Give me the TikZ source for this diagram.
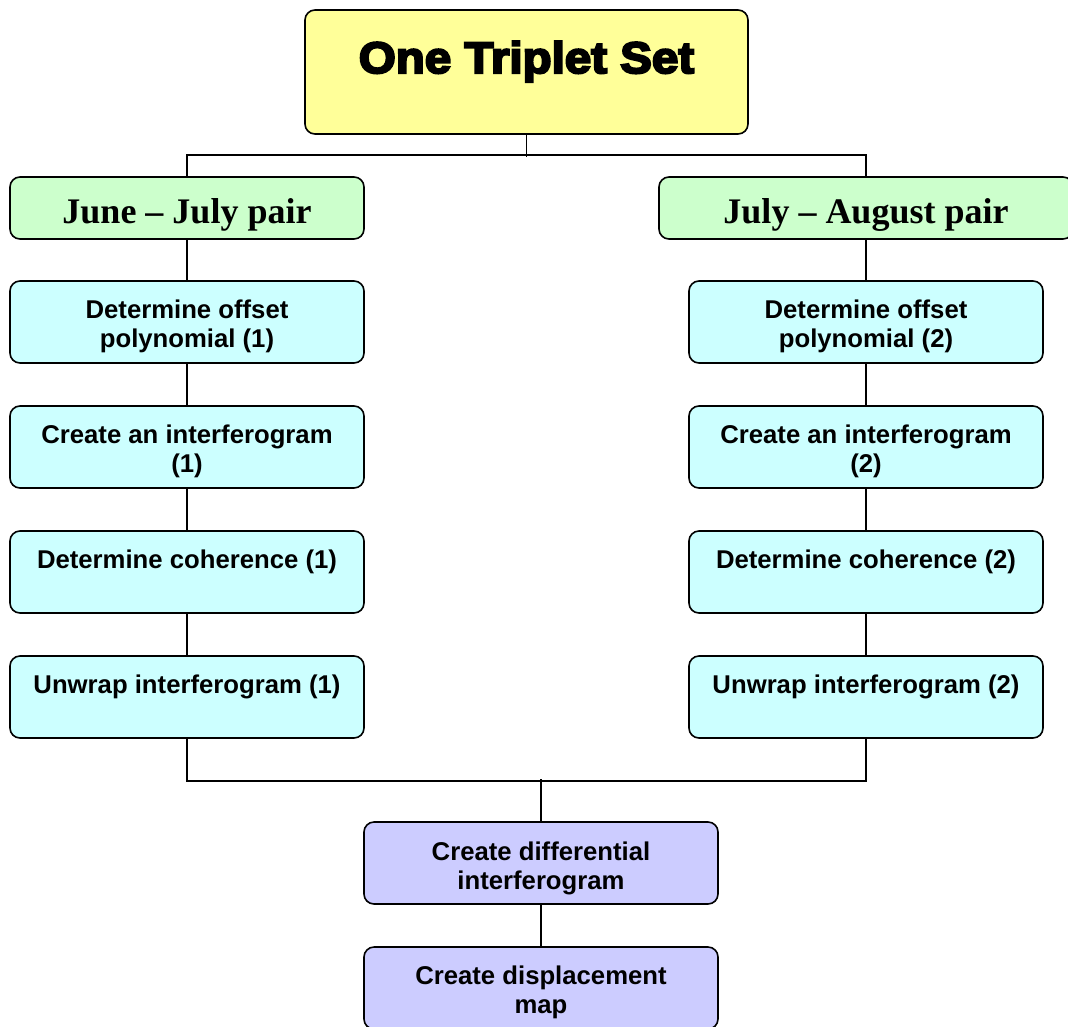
\documentclass[tikz,border=0pt]{standalone}
\usepackage{fontspec}
\setmainfont{Liberation Serif}
\newfontfamily\arialfont{Liberation Sans}
\newfontfamily\blackfont[FakeBold=5,FakeStretch=1.08]{Liberation Sans Bold}
\definecolor{yellowc}{HTML}{FFFF99}
\definecolor{greenc}{HTML}{CCFFCC}
\definecolor{cyanc}{HTML}{CCFFFF}
\definecolor{purplec}{HTML}{CCCCFF}
\newcommand{\tl}[1]{\parbox[t]{350pt}{\centering\arialfont\bfseries\fontsize{25.7}{29}\selectfont #1}}
\tikzset{
  box/.style={draw=black, line width=1.6pt, rounded corners=10pt, inner sep=0},
  titlebox/.style={box, fill=yellowc, minimum width=443pt, minimum height=124pt},
  greenbox/.style={box, fill=greenc, minimum height=62pt},
  cyanbox/.style={box, fill=cyanc, minimum width=354pt, minimum height=82pt},
  purplebox/.style={box, fill=purplec, minimum width=354pt, minimum height=82pt},
  lbl/.style={inner sep=0, anchor=base},
  glbl/.style={inner sep=0, anchor=base, font=\bfseries\fontsize{36}{40}\selectfont},
  conn/.style={line width=1.5pt},
}
\begin{document}
\begin{tikzpicture}[x=1pt,y=-1pt]
\clip (0,0) rectangle (1068,1026);
\fill[white] (0,0) rectangle (1068,1026);
% boxes
\node[titlebox] (title) at (526.5,72) {};
\node[greenbox, minimum width=354pt] (g1) at (187,208) {};
\node[greenbox, minimum width=414pt] (g2) at (866,208) {};
\node[cyanbox] (a1) at (187,322) {};
\node[cyanbox] (b1) at (187,447) {};
\node[cyanbox] (c1) at (187,572) {};
\node[cyanbox] (d1) at (187,697) {};
\node[cyanbox] (a2) at (866,322) {};
\node[cyanbox] (b2) at (866,447) {};
\node[cyanbox] (c2) at (866,572) {};
\node[cyanbox] (d2) at (866,697) {};
\node[purplebox] (p1) at (541,863) {};
\node[purplebox] (p2) at (541,988) {};
% texts
\node[lbl, font=\blackfont\fontsize{44}{50}\selectfont] (tt) at (526.5,73) {One Triplet Set};
\node[glbl] (g1t) at (187,223) {June -- July pair};
\node[glbl] (g2t) at (866,223) {July -- August pair};
\node[lbl] (a1t) at (187,318) {\tl{Determine offset\\polynomial (1)}};
\node[lbl] (b1t) at (187,443) {\tl{Create an interferogram\\(1)}};
\node[lbl] (c1t) at (187,568) {\tl{Determine coherence (1)}};
\node[lbl] (d1t) at (187,693) {\tl{Unwrap interferogram (1)}};
\node[lbl] (a2t) at (866,318) {\tl{Determine offset\\polynomial (2)}};
\node[lbl] (b2t) at (866,443) {\tl{Create an interferogram\\(2)}};
\node[lbl] (c2t) at (866,568) {\tl{Determine coherence (2)}};
\node[lbl] (d2t) at (866,693) {\tl{Unwrap interferogram (2)}};
\node[lbl] (p1t) at (541,860) {\tl{Create differential\\interferogram}};
\node[lbl] (p2t) at (541,984) {\tl{Create displacement\\map}};
% connectors
\draw[conn] (title.south) -- ++(0,22);
\draw[conn] (g1.north) -- ++(0,-21) -| (g2.north);
\draw[conn] (g1) -- (a1);
\draw[conn] (a1) -- (b1);
\draw[conn] (b1) -- (c1);
\draw[conn] (c1) -- (d1);
\draw[conn] (g2) -- (a2);
\draw[conn] (a2) -- (b2);
\draw[conn] (b2) -- (c2);
\draw[conn] (c2) -- (d2);
\draw[conn] (d1.south) -- ++(0,42) -| (d2.south);
\draw[conn] (p1.north) -- ++(0,-42);
\draw[conn] (p1) -- (p2);
\end{tikzpicture}
\end{document}
